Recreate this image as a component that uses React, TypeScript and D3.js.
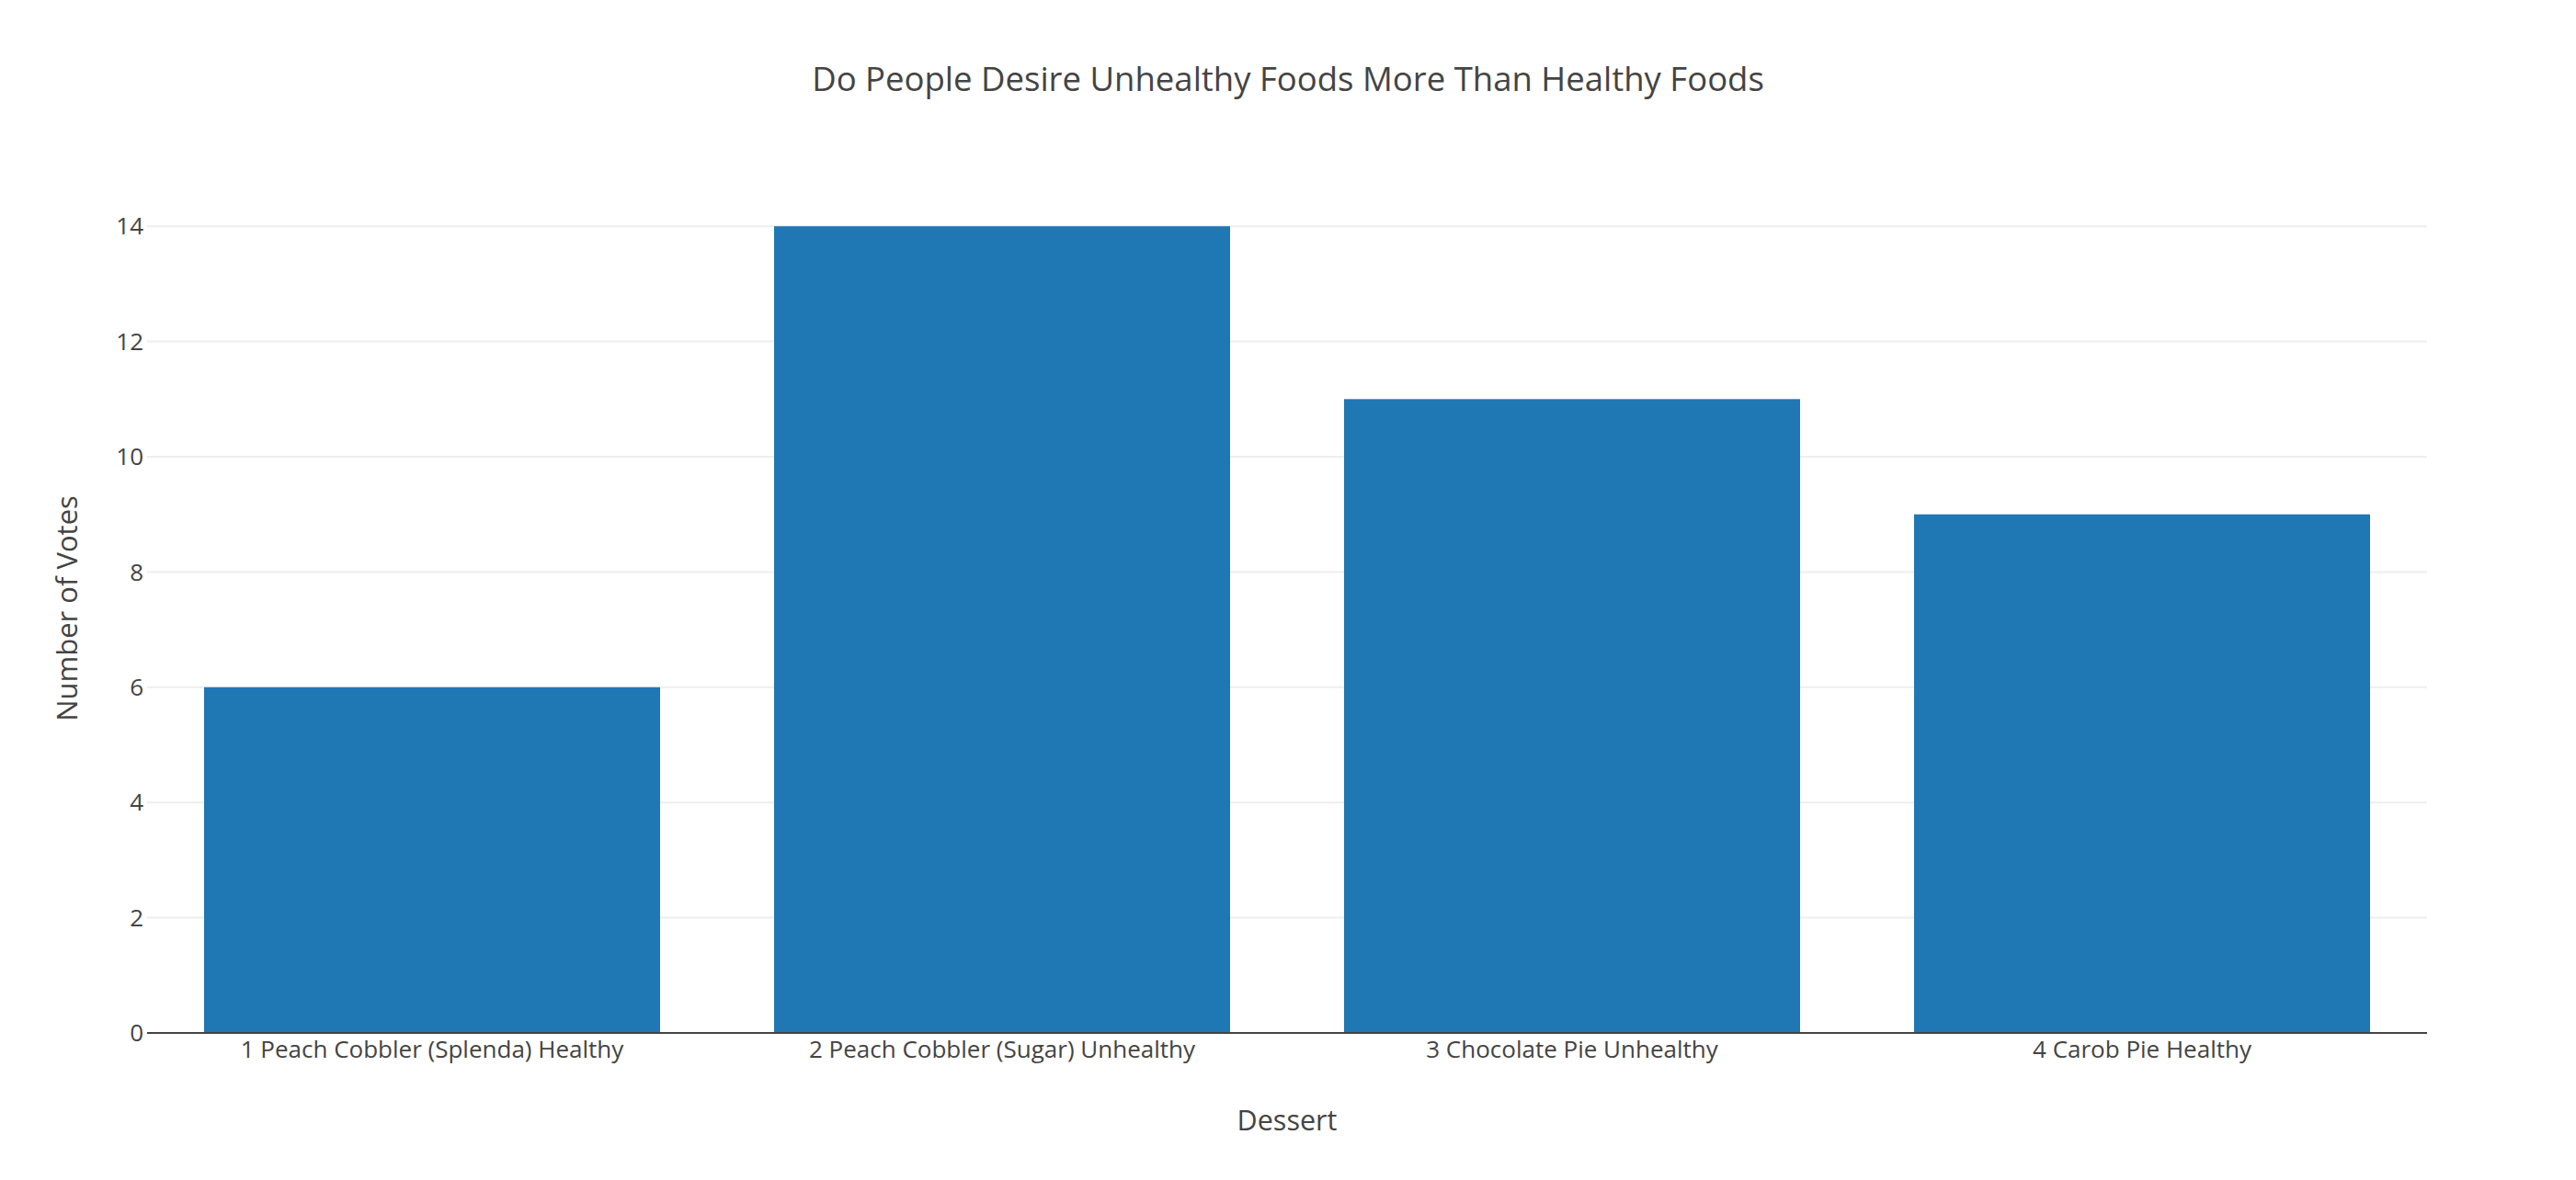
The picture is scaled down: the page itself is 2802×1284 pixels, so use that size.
import React, { useEffect, useRef } from 'react';
import * as d3 from 'd3';

const categories = [
  '1 Peach Cobbler (Splenda) Healthy',
  '2 Peach Cobbler (Sugar) Unhealthy',
  '3 Chocolate Pie Unhealthy',
  '4 Carob Pie Healthy',
];
const votes = [6, 14, 11, 9];
const yTicks = [0, 2, 4, 6, 8, 10, 12, 14];

const W = 2802;
const H = 1284;
const FONT = '"Open Sans", verdana, arial, sans-serif';

const App = () => {
  const ref = useRef<SVGSVGElement>(null);

  useEffect(() => {
    const svg = d3.select(ref.current);
    svg.selectAll('*').remove();

    const margin = { top: 200, right: 162, bottom: 160, left: 160 };
    const plotW = W - margin.left - margin.right;
    const plotH = H - margin.top - margin.bottom;

    const x = d3.scaleBand()
      .domain(categories)
      .range([margin.left, margin.left + plotW])
      .paddingInner(0.2)
      .paddingOuter(0.1);

    // plotly-style autorange: 5% headroom above the tallest bar
    const y = d3.scaleLinear()
      .domain([0, d3.max(votes)! / 0.95])
      .range([margin.top + plotH, margin.top]);

    svg.append('rect').attr('width', W).attr('height', H).attr('fill', '#fff');

    // grid
    svg.append('g')
      .selectAll('line')
      .data(yTicks.filter(t => t > 0))
      .enter().append('line')
      .attr('x1', margin.left)
      .attr('x2', margin.left + plotW)
      .attr('y1', d => y(d))
      .attr('y2', d => y(d))
      .attr('stroke', '#eee')
      .attr('stroke-width', 2);

    // bars
    svg.append('g')
      .selectAll('rect')
      .data(votes)
      .enter().append('rect')
      .attr('x', (d, i) => x(categories[i])!)
      .attr('y', d => y(d))
      .attr('width', x.bandwidth())
      .attr('height', d => y(0) - y(d))
      .attr('fill', '#1f77b4');

    // zero line
    svg.append('line')
      .attr('x1', margin.left)
      .attr('x2', margin.left + plotW)
      .attr('y1', y(0))
      .attr('y2', y(0))
      .attr('stroke', '#444')
      .attr('stroke-width', 2);

    // y tick labels
    svg.append('g')
      .selectAll('text')
      .data(yTicks)
      .enter().append('text')
      .attr('x', margin.left - 4)
      .attr('y', d => y(d))
      .attr('dy', '0.35em')
      .attr('text-anchor', 'end')
      .attr('font-family', FONT)
      .attr('font-size', 26)
      .attr('fill', '#444')
      .text(d => d);

    // x tick labels
    svg.append('g')
      .selectAll('text')
      .data(categories)
      .enter().append('text')
      .attr('x', d => x(d)! + x.bandwidth() / 2)
      .attr('y', y(0) + 27)
      .attr('text-anchor', 'middle')
      .attr('font-family', FONT)
      .attr('font-size', 26)
      .attr('fill', '#444')
      .text(d => d);

    // titles
    svg.append('text')
      .attr('x', W / 2)
      .attr('y', 99)
      .attr('text-anchor', 'middle')
      .attr('font-family', FONT)
      .attr('font-size', 36.5)
      .attr('fill', '#444')
      .text('Do People Desire Unhealthy Foods More Than Healthy Foods');

    svg.append('text')
      .attr('x', margin.left + plotW / 2)
      .attr('y', 1230)
      .attr('text-anchor', 'middle')
      .attr('font-family', FONT)
      .attr('font-size', 30.5)
      .attr('fill', '#444')
      .text('Dessert');

    svg.append('text')
      .attr('transform', `translate(73,${margin.top + plotH / 2}) rotate(-90)`)
      .attr('dy', '0.35em')
      .attr('text-anchor', 'middle')
      .attr('font-family', FONT)
      .attr('font-size', 31)
      .attr('fill', '#444')
      .text('Number of Votes');
  }, []);

  return (
    <svg ref={ref} width={W} height={H} style={{ position: 'absolute', left: 0, top: 0 }} />
  );
};

export default App;
